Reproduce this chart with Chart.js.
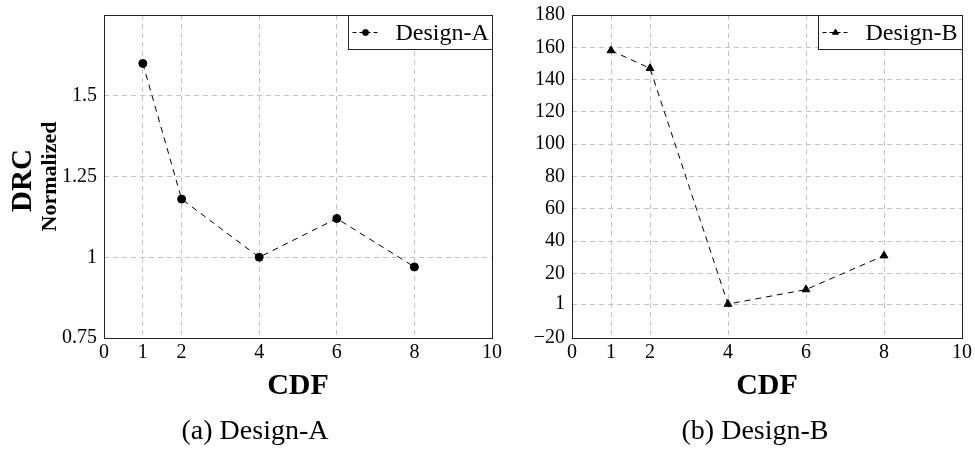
<!DOCTYPE html>
<html>
<head>
<meta charset="utf-8">
<script src="https://cdn.jsdelivr.net/npm/chart.js@4.4.1/dist/chart.umd.min.js"></script>
<style>
  body { margin: 0; background: #fff; }
  #wrapA, #wrapB { position: absolute; top: 0; height: 450px; }
  #wrapA { left: 0; width: 515px; }
  #wrapB { left: 500px; width: 475px; }
</style>
</head>
<body>
<div id="wrapA"><canvas id="chart-a"></canvas></div>
<div id="wrapB"><canvas id="chart-b"></canvas></div>
<script>
// data
const cdfSteps = [1, 2, 4, 6, 8];
const designA = [1.6, 1.18, 1.0, 1.12, 0.97];
const designB = [158, 147, 1, 10, 31];
const xTicks = [0, 1, 2, 4, 6, 8, 10];
const yTicksA = [0.75, 1, 1.25, 1.5];
const yTicksB = [-20, 1, 20, 40, 60, 80, 100, 120, 140, 160, 180];

const SERIF = '"Liberation Serif", "DejaVu Serif", serif';
const gridGray = '#c4c4c4';

// frame, boxed legend, y title and caption
const decor = {
  id: 'decor',
  afterDatasetsDraw(chart, args, opts) {
    const ctx = chart.ctx;
    const a = chart.chartArea;
    ctx.save();
    // full frame like pgfplots
    ctx.strokeStyle = '#222';
    ctx.lineWidth = 1;
    ctx.setLineDash([]);
    ctx.strokeRect(Math.round(a.left) + 0.5, Math.round(a.top) + 0.5,
      Math.round(a.right - a.left), Math.round(a.bottom - a.top));

    // legend box in top right corner
    const ds = chart.data.datasets[0];
    const bw = 144, bh = 34;
    const bx = Math.round(a.right - bw) + 0.5, by = Math.round(a.top) + 0.5;
    ctx.fillStyle = '#fff';
    ctx.fillRect(bx, by, bw, bh);
    ctx.strokeRect(bx, by, bw, bh);
    const ly = by + bh / 2;
    ctx.strokeStyle = '#000';
    ctx.setLineDash([4, 3]);
    ctx.beginPath();
    ctx.moveTo(bx + 4, ly);
    ctx.lineTo(bx + 32, ly);
    ctx.stroke();
    ctx.setLineDash([]);
    ctx.fillStyle = '#000';
    Chart.helpers.drawPoint(ctx, {
      pointStyle: ds.pointStyle, radius: ds.pointStyle === 'triangle' ? 3.5 : 3,
      rotation: 0, borderWidth: 1
    }, bx + 17, ly);
    ctx.fillStyle = '#000';
    ctx.font = '24px ' + SERIF;
    ctx.textAlign = 'left';
    ctx.textBaseline = 'middle';
    ctx.fillText(ds.label, bx + 47, ly + 1);

    // y title (left chart only)
    if (opts.yTitle) {
      ctx.save();
      ctx.translate(24, (a.top + a.bottom) / 2 + 4);
      ctx.rotate(-Math.PI / 2);
      ctx.textAlign = 'center';
      ctx.font = 'bold 29px ' + SERIF;
      ctx.fillText(opts.yTitle, 0, 0);
      ctx.restore();
      ctx.save();
      ctx.translate(50, (a.top + a.bottom) / 2);
      ctx.rotate(-Math.PI / 2);
      ctx.textAlign = 'center';
      ctx.font = 'bold 22px ' + SERIF;
      ctx.fillText(opts.ySub, 0, 0);
      ctx.restore();
    }

    // sub-figure caption
    ctx.font = '28px ' + SERIF;
    ctx.textAlign = 'center';
    ctx.fillText(opts.caption, opts.captionX, 432);
    ctx.restore();
  }
};

function makeChart(el, label, values, pointStyle, yMin, yMax, yTicks, leftW, rightPad, decorOpts) {
  return new Chart(el, {
    type: 'line',
    data: {
      datasets: [{
        label: label,
        data: cdfSteps.map((x, i) => ({ x: x, y: values[i] })),
        borderColor: '#000',
        backgroundColor: '#000',
        borderWidth: 1,
        borderDash: [6, 5],
        pointStyle: pointStyle,
        pointRadius: pointStyle === 'triangle' ? 4.5 : 4,
        pointBackgroundColor: '#000',
        pointBorderColor: '#000',
        tension: 0
      }]
    },
    options: {
      responsive: true,
      maintainAspectRatio: false,
      animation: false,
      layout: { padding: { top: 15, right: rightPad, left: 0, bottom: 0 } },
      plugins: { legend: { display: false }, tooltip: { enabled: false }, decor: decorOpts },
      scales: {
        x: {
          type: 'linear',
          min: 0,
          max: 10,
          afterBuildTicks: s => { s.ticks = xTicks.map(v => ({ value: v })); },
          afterFit: s => { s.height = 112; s.paddingLeft = 0; s.paddingRight = 0; },
          grid: { color: gridGray, lineWidth: 1, drawTicks: false },
          border: { display: false, dash: [5, 4] },
          ticks: { color: '#000', padding: 3, maxRotation: 0, font: { family: SERIF, size: 20 } },
          title: {
            display: true, text: 'CDF', color: '#000',
            font: { family: SERIF, size: 30, weight: 'bold' },
            padding: { top: 0, bottom: 46 }
          }
        },
        y: {
          min: yMin,
          max: yMax,
          afterBuildTicks: s => { s.ticks = yTicks.map(v => ({ value: v })); },
          afterFit: s => { s.width = leftW; s.paddingTop = 0; s.paddingBottom = 0; },
          grid: { color: gridGray, lineWidth: 1, drawTicks: false },
          border: { display: false, dash: [5, 4] },
          ticks: {
            color: '#000', padding: 7, font: { family: SERIF, size: 20 },
            callback: v => String(v).replace('-', '\u2212')
          }
        }
      }
    },
    plugins: [decor]
  });
}

const chartA = makeChart(document.getElementById('chart-a'), 'Design-A', designA, 'circle',
  0.75, 1.75, yTicksA, 104, 23,
  { yTitle: 'DRC', ySub: 'Normalized', caption: '(a) Design-A', captionX: 255 });

const chartB = makeChart(document.getElementById('chart-b'), 'Design-B', designB, 'triangle',
  -20, 180, yTicksB, 72, 13,
  { caption: '(b) Design-B', captionX: 255 });
</script>
</body>
</html>
